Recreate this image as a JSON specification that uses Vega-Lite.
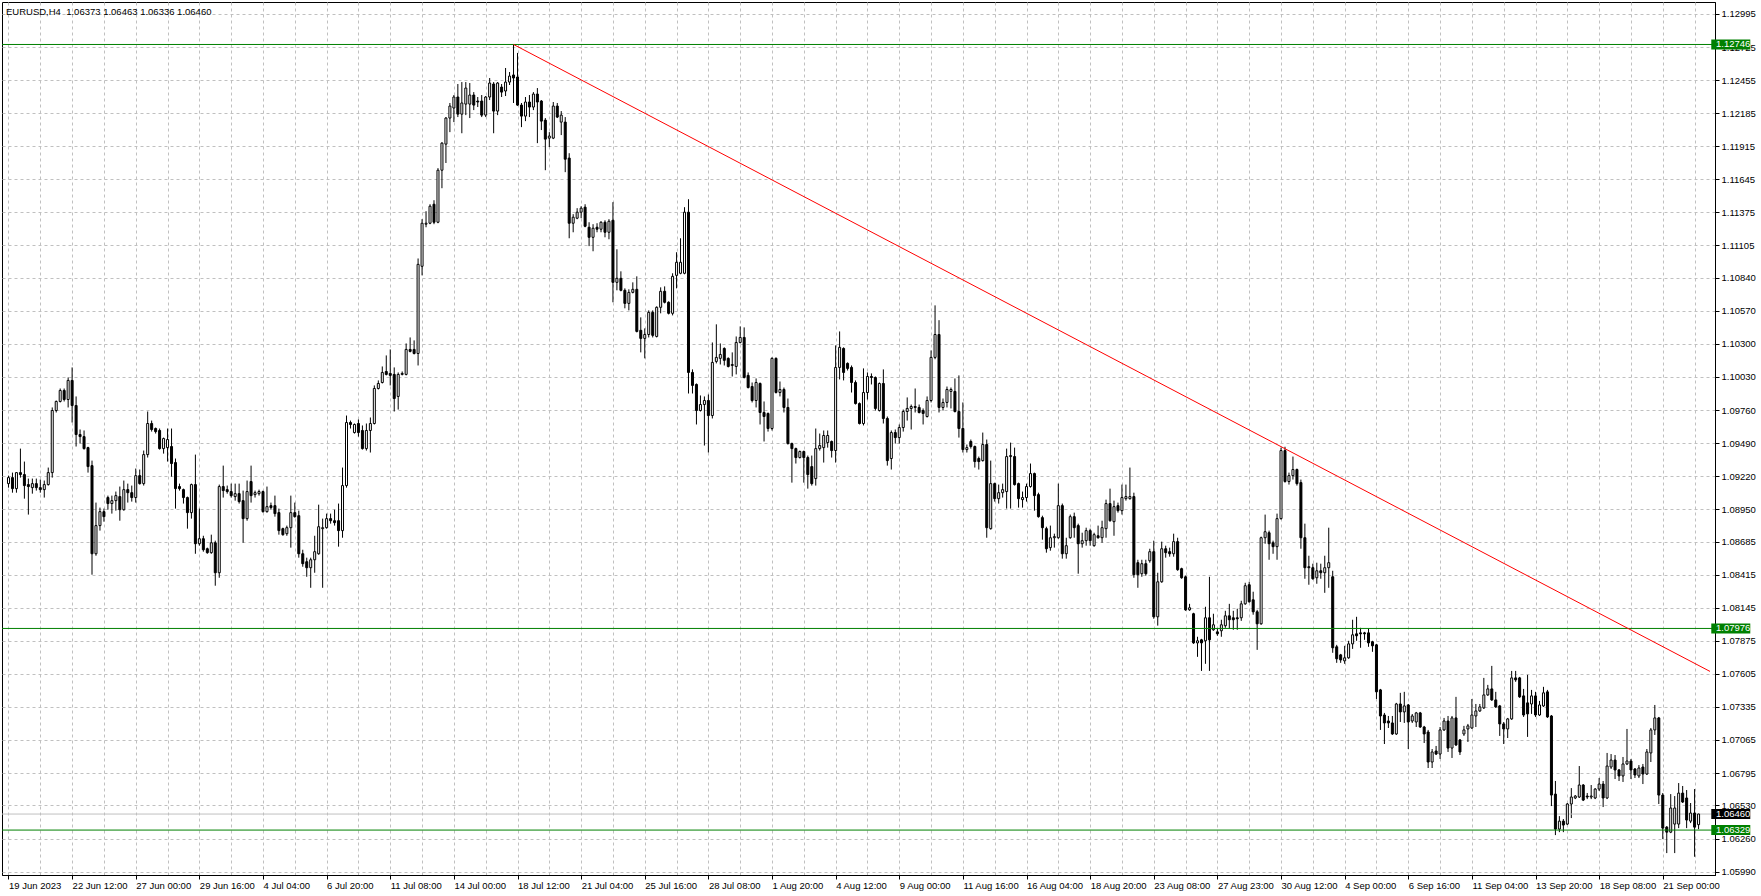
{
"$schema": "https://vega.github.io/schema/vega-lite/v6.json",
"width": 1713, "height": 873,
"autosize": {"type": "none"},
"padding": {"left": 2, "top": 2, "right": 46, "bottom": 21},
"background": "white",
"title": {"text": "EURUSD,H4\u00a0\u00a01.06373 1.06463 1.06336 1.06460", "anchor": "start", "frame": "group", "orient": "top", "offset": -14, "dx": 4, "font": "Liberation Sans", "fontSize": 9.5, "fontWeight": "normal", "color": "black"},
"config": {"view": {"stroke": "black", "strokeWidth": 1}, "axis": {"labelOverlap": false, "labelFlush": false, "tickCount": 200}},
"datasets": {
"candles": [
{"i":0,"o":1.09159,"h":1.09224,"l":1.09126,"c":1.09208},
{"i":1,"o":1.09208,"h":1.09249,"l":1.09085,"c":1.09118},
{"i":2,"o":1.09118,"h":1.09249,"l":1.09085,"c":1.09249},
{"i":3,"o":1.09249,"h":1.09445,"l":1.09208,"c":1.09233},
{"i":4,"o":1.09233,"h":1.09339,"l":1.09036,"c":1.09143},
{"i":5,"o":1.09151,"h":1.09200,"l":1.08906,"c":1.09135},
{"i":6,"o":1.09126,"h":1.09200,"l":1.09077,"c":1.09159},
{"i":7,"o":1.09159,"h":1.09200,"l":1.09102,"c":1.09126},
{"i":8,"o":1.09126,"h":1.09192,"l":1.09085,"c":1.09110},
{"i":9,"o":1.09110,"h":1.09184,"l":1.09045,"c":1.09151},
{"i":10,"o":1.09151,"h":1.09290,"l":1.09143,"c":1.09249},
{"i":11,"o":1.09249,"h":1.09781,"l":1.09208,"c":1.09756},
{"i":12,"o":1.09756,"h":1.09838,"l":1.09740,"c":1.09830},
{"i":13,"o":1.09830,"h":1.09936,"l":1.09822,"c":1.09920},
{"i":14,"o":1.09920,"h":1.09936,"l":1.09830,"c":1.09846},
{"i":15,"o":1.09846,"h":1.10026,"l":1.09781,"c":1.10002},
{"i":16,"o":1.10002,"h":1.10108,"l":1.09658,"c":1.09797},
{"i":17,"o":1.09797,"h":1.09871,"l":1.09462,"c":1.09560},
{"i":18,"o":1.09560,"h":1.09601,"l":1.09486,"c":1.09543},
{"i":19,"o":1.09543,"h":1.09593,"l":1.09437,"c":1.09445},
{"i":20,"o":1.09453,"h":1.09460,"l":1.09249,"c":1.09298},
{"i":21,"o":1.09306,"h":1.09347,"l":1.08415,"c":1.08586},
{"i":22,"o":1.08586,"h":1.09004,"l":1.08570,"c":1.08816},
{"i":23,"o":1.08816,"h":1.08963,"l":1.08775,"c":1.08930},
{"i":24,"o":1.08930,"h":1.08955,"l":1.08848,"c":1.08889},
{"i":25,"o":1.09045,"h":1.09061,"l":1.08946,"c":1.08996},
{"i":26,"o":1.08996,"h":1.09061,"l":1.08914,"c":1.09020},
{"i":27,"o":1.09020,"h":1.09094,"l":1.08938,"c":1.09061},
{"i":28,"o":1.09053,"h":1.09135,"l":1.08856,"c":1.08946},
{"i":29,"o":1.08946,"h":1.09184,"l":1.08938,"c":1.09110},
{"i":30,"o":1.09110,"h":1.09159,"l":1.09004,"c":1.09085},
{"i":31,"o":1.09085,"h":1.09143,"l":1.09012,"c":1.09045},
{"i":32,"o":1.09045,"h":1.09282,"l":1.09004,"c":1.09224},
{"i":33,"o":1.09224,"h":1.09274,"l":1.09151,"c":1.09159},
{"i":34,"o":1.09159,"h":1.09429,"l":1.09143,"c":1.09396},
{"i":35,"o":1.09396,"h":1.09748,"l":1.09372,"c":1.09650},
{"i":36,"o":1.09650,"h":1.09674,"l":1.09584,"c":1.09601},
{"i":37,"o":1.09609,"h":1.09617,"l":1.09568,"c":1.09584},
{"i":38,"o":1.09593,"h":1.09609,"l":1.09437,"c":1.09445},
{"i":39,"o":1.09445,"h":1.09535,"l":1.09404,"c":1.09527},
{"i":40,"o":1.09453,"h":1.09609,"l":1.09339,"c":1.09519},
{"i":41,"o":1.09462,"h":1.09609,"l":1.09216,"c":1.09323},
{"i":42,"o":1.09331,"h":1.09364,"l":1.08955,"c":1.09118},
{"i":43,"o":1.09135,"h":1.09159,"l":1.09102,"c":1.09118},
{"i":44,"o":1.09110,"h":1.09118,"l":1.08996,"c":1.09045},
{"i":45,"o":1.09045,"h":1.09053,"l":1.08791,"c":1.08922},
{"i":46,"o":1.08922,"h":1.09159,"l":1.08873,"c":1.09151},
{"i":47,"o":1.09151,"h":1.09396,"l":1.08586,"c":1.08668},
{"i":48,"o":1.08668,"h":1.08955,"l":1.08652,"c":1.08709},
{"i":49,"o":1.08709,"h":1.08733,"l":1.08603,"c":1.08619},
{"i":50,"o":1.08627,"h":1.08636,"l":1.08586,"c":1.08595},
{"i":51,"o":1.08595,"h":1.08742,"l":1.08586,"c":1.08676},
{"i":52,"o":1.08676,"h":1.08693,"l":1.08325,"c":1.08431},
{"i":53,"o":1.08431,"h":1.09151,"l":1.08390,"c":1.09135},
{"i":54,"o":1.09135,"h":1.09306,"l":1.09045,"c":1.09102},
{"i":55,"o":1.09110,"h":1.09143,"l":1.09077,"c":1.09094},
{"i":56,"o":1.09094,"h":1.09159,"l":1.09045,"c":1.09061},
{"i":57,"o":1.09053,"h":1.09159,"l":1.09020,"c":1.09077},
{"i":58,"o":1.09077,"h":1.09159,"l":1.08996,"c":1.09012},
{"i":59,"o":1.09020,"h":1.09102,"l":1.08676,"c":1.08873},
{"i":60,"o":1.08873,"h":1.09184,"l":1.08856,"c":1.09094},
{"i":61,"o":1.09176,"h":1.09306,"l":1.09004,"c":1.09061},
{"i":62,"o":1.09069,"h":1.09102,"l":1.09045,"c":1.09085},
{"i":63,"o":1.09077,"h":1.09110,"l":1.09061,"c":1.09094},
{"i":64,"o":1.09094,"h":1.09102,"l":1.08922,"c":1.08930},
{"i":65,"o":1.08930,"h":1.09135,"l":1.08922,"c":1.08971},
{"i":66,"o":1.08979,"h":1.09004,"l":1.08946,"c":1.08963},
{"i":67,"o":1.08979,"h":1.09061,"l":1.08889,"c":1.08914},
{"i":68,"o":1.08922,"h":1.08955,"l":1.08742,"c":1.08775},
{"i":69,"o":1.08791,"h":1.08799,"l":1.08733,"c":1.08742},
{"i":70,"o":1.08750,"h":1.08816,"l":1.08733,"c":1.08799},
{"i":71,"o":1.08799,"h":1.09061,"l":1.08636,"c":1.08922},
{"i":72,"o":1.08922,"h":1.09004,"l":1.08881,"c":1.08889},
{"i":73,"o":1.08897,"h":1.08938,"l":1.08554,"c":1.08586},
{"i":74,"o":1.08586,"h":1.08619,"l":1.08480,"c":1.08505},
{"i":75,"o":1.08521,"h":1.08554,"l":1.08398,"c":1.08472},
{"i":76,"o":1.08472,"h":1.08554,"l":1.08308,"c":1.08537},
{"i":77,"o":1.08537,"h":1.08733,"l":1.08431,"c":1.08603},
{"i":78,"o":1.08586,"h":1.08987,"l":1.08578,"c":1.08807},
{"i":79,"o":1.08791,"h":1.08873,"l":1.08308,"c":1.08799},
{"i":80,"o":1.08799,"h":1.08914,"l":1.08791,"c":1.08873},
{"i":81,"o":1.08873,"h":1.08914,"l":1.08832,"c":1.08856},
{"i":82,"o":1.08856,"h":1.08946,"l":1.08816,"c":1.08840},
{"i":83,"o":1.08856,"h":1.08996,"l":1.08644,"c":1.08775},
{"i":84,"o":1.08775,"h":1.09290,"l":1.08717,"c":1.09143},
{"i":85,"o":1.09143,"h":1.09715,"l":1.09126,"c":1.09658},
{"i":86,"o":1.09658,"h":1.09674,"l":1.09609,"c":1.09642},
{"i":87,"o":1.09576,"h":1.09650,"l":1.09568,"c":1.09642},
{"i":88,"o":1.09650,"h":1.09683,"l":1.09543,"c":1.09576},
{"i":89,"o":1.09593,"h":1.09634,"l":1.09437,"c":1.09445},
{"i":90,"o":1.09445,"h":1.09650,"l":1.09429,"c":1.09593},
{"i":91,"o":1.09593,"h":1.09699,"l":1.09413,"c":1.09650},
{"i":92,"o":1.09650,"h":1.09961,"l":1.09642,"c":1.09936},
{"i":93,"o":1.09936,"h":1.10002,"l":1.09928,"c":1.09977},
{"i":94,"o":1.09985,"h":1.10116,"l":1.09977,"c":1.10067},
{"i":95,"o":1.10075,"h":1.10206,"l":1.10043,"c":1.10051},
{"i":96,"o":1.10059,"h":1.10255,"l":1.09961,"c":1.10043},
{"i":97,"o":1.10051,"h":1.10108,"l":1.09748,"c":1.09854},
{"i":98,"o":1.09871,"h":1.10067,"l":1.09764,"c":1.10051},
{"i":99,"o":1.10051,"h":1.10075,"l":1.10043,"c":1.10059},
{"i":100,"o":1.10051,"h":1.10304,"l":1.10043,"c":1.10255},
{"i":101,"o":1.10255,"h":1.10353,"l":1.10231,"c":1.10239},
{"i":102,"o":1.10255,"h":1.10329,"l":1.10214,"c":1.10222},
{"i":103,"o":1.10222,"h":1.10998,"l":1.10124,"c":1.10950},
{"i":104,"o":1.10934,"h":1.11319,"l":1.10860,"c":1.11286},
{"i":105,"o":1.11278,"h":1.11384,"l":1.11253,"c":1.11286},
{"i":106,"o":1.11286,"h":1.11441,"l":1.11278,"c":1.11425},
{"i":107,"o":1.11441,"h":1.11474,"l":1.11278,"c":1.11294},
{"i":108,"o":1.11294,"h":1.11736,"l":1.11286,"c":1.11719},
{"i":109,"o":1.11719,"h":1.11948,"l":1.11572,"c":1.11940},
{"i":110,"o":1.11932,"h":1.12153,"l":1.11778,"c":1.12145},
{"i":111,"o":1.12145,"h":1.12268,"l":1.12030,"c":1.12243},
{"i":112,"o":1.12227,"h":1.12333,"l":1.12112,"c":1.12317},
{"i":113,"o":1.12317,"h":1.12423,"l":1.12153,"c":1.12177},
{"i":114,"o":1.12177,"h":1.12439,"l":1.12021,"c":1.12268},
{"i":115,"o":1.12259,"h":1.12439,"l":1.12169,"c":1.12390},
{"i":116,"o":1.12259,"h":1.12431,"l":1.12145,"c":1.12333},
{"i":117,"o":1.12333,"h":1.12357,"l":1.12210,"c":1.12251},
{"i":118,"o":1.12284,"h":1.12317,"l":1.12235,"c":1.12276},
{"i":119,"o":1.12284,"h":1.12333,"l":1.12153,"c":1.12169},
{"i":120,"o":1.12169,"h":1.12325,"l":1.12153,"c":1.12317},
{"i":121,"o":1.12317,"h":1.12472,"l":1.12292,"c":1.12431},
{"i":122,"o":1.12423,"h":1.12439,"l":1.12021,"c":1.12202},
{"i":123,"o":1.12202,"h":1.12439,"l":1.12169,"c":1.12431},
{"i":124,"o":1.12398,"h":1.12423,"l":1.12317,"c":1.12357},
{"i":125,"o":1.12366,"h":1.12554,"l":1.12325,"c":1.12439},
{"i":126,"o":1.12439,"h":1.12521,"l":1.12415,"c":1.12488},
{"i":127,"o":1.12497,"h":1.12746,"l":1.12268,"c":1.12472},
{"i":128,"o":1.12480,"h":1.12677,"l":1.12245,"c":1.12251},
{"i":129,"o":1.12251,"h":1.12268,"l":1.12071,"c":1.12161},
{"i":130,"o":1.12161,"h":1.12317,"l":1.12120,"c":1.12276},
{"i":131,"o":1.12276,"h":1.12333,"l":1.12153,"c":1.12235},
{"i":132,"o":1.12235,"h":1.12357,"l":1.12210,"c":1.12341},
{"i":133,"o":1.12341,"h":1.12390,"l":1.11940,"c":1.12276},
{"i":134,"o":1.12284,"h":1.12292,"l":1.12047,"c":1.12120},
{"i":135,"o":1.12128,"h":1.12145,"l":1.11719,"c":1.11973},
{"i":136,"o":1.11981,"h":1.12030,"l":1.11908,"c":1.11998},
{"i":137,"o":1.11981,"h":1.12276,"l":1.11973,"c":1.12243},
{"i":138,"o":1.12243,"h":1.12268,"l":1.12145,"c":1.12153},
{"i":139,"o":1.12112,"h":1.12202,"l":1.12006,"c":1.12169},
{"i":140,"o":1.12112,"h":1.12153,"l":1.11703,"c":1.11809},
{"i":141,"o":1.11818,"h":1.11858,"l":1.11163,"c":1.11286},
{"i":142,"o":1.11286,"h":1.11360,"l":1.11212,"c":1.11335},
{"i":143,"o":1.11327,"h":1.11409,"l":1.11319,"c":1.11376},
{"i":144,"o":1.11376,"h":1.11425,"l":1.11327,"c":1.11409},
{"i":145,"o":1.11417,"h":1.11441,"l":1.11253,"c":1.11261},
{"i":146,"o":1.11253,"h":1.11294,"l":1.11099,"c":1.11171},
{"i":147,"o":1.11171,"h":1.11278,"l":1.11057,"c":1.11245},
{"i":148,"o":1.11253,"h":1.11286,"l":1.11212,"c":1.11237},
{"i":149,"o":1.11237,"h":1.11302,"l":1.11212,"c":1.11294},
{"i":150,"o":1.11294,"h":1.11310,"l":1.11171,"c":1.11212},
{"i":151,"o":1.11212,"h":1.11319,"l":1.11155,"c":1.11302},
{"i":152,"o":1.11310,"h":1.11458,"l":1.10640,"c":1.10803},
{"i":153,"o":1.10803,"h":1.11073,"l":1.10738,"c":1.10836},
{"i":154,"o":1.10836,"h":1.10893,"l":1.10730,"c":1.10738},
{"i":155,"o":1.10738,"h":1.10754,"l":1.10591,"c":1.10631},
{"i":156,"o":1.10631,"h":1.10746,"l":1.10574,"c":1.10721},
{"i":157,"o":1.10721,"h":1.10803,"l":1.10713,"c":1.10746},
{"i":158,"o":1.10746,"h":1.10852,"l":1.10394,"c":1.10402},
{"i":159,"o":1.10411,"h":1.10517,"l":1.10231,"c":1.10345},
{"i":160,"o":1.10345,"h":1.10427,"l":1.10182,"c":1.10377},
{"i":161,"o":1.10377,"h":1.10574,"l":1.10353,"c":1.10558},
{"i":162,"o":1.10558,"h":1.10574,"l":1.10353,"c":1.10370},
{"i":163,"o":1.10361,"h":1.10607,"l":1.10353,"c":1.10599},
{"i":164,"o":1.10599,"h":1.10762,"l":1.10550,"c":1.10730},
{"i":165,"o":1.10730,"h":1.10770,"l":1.10631,"c":1.10640},
{"i":166,"o":1.10640,"h":1.10648,"l":1.10541,"c":1.10550},
{"i":167,"o":1.10550,"h":1.10877,"l":1.10533,"c":1.10852},
{"i":168,"o":1.10860,"h":1.11049,"l":1.10754,"c":1.10967},
{"i":169,"o":1.10877,"h":1.11163,"l":1.10869,"c":1.10967},
{"i":170,"o":1.10877,"h":1.11417,"l":1.10869,"c":1.11376},
{"i":171,"o":1.11376,"h":1.11482,"l":1.09895,"c":1.10067},
{"i":172,"o":1.10067,"h":1.10092,"l":1.09895,"c":1.09961},
{"i":173,"o":1.09969,"h":1.09977,"l":1.09642,"c":1.09756},
{"i":174,"o":1.09756,"h":1.09879,"l":1.09748,"c":1.09805},
{"i":175,"o":1.09805,"h":1.09871,"l":1.09470,"c":1.09838},
{"i":176,"o":1.09838,"h":1.09887,"l":1.09413,"c":1.09715},
{"i":177,"o":1.09715,"h":1.10312,"l":1.09691,"c":1.10149},
{"i":178,"o":1.10157,"h":1.10460,"l":1.10141,"c":1.10190},
{"i":179,"o":1.10182,"h":1.10304,"l":1.10132,"c":1.10214},
{"i":180,"o":1.10263,"h":1.10272,"l":1.10124,"c":1.10166},
{"i":181,"o":1.10182,"h":1.10190,"l":1.10108,"c":1.10116},
{"i":182,"o":1.10124,"h":1.10231,"l":1.10034,"c":1.10132},
{"i":183,"o":1.10116,"h":1.10361,"l":1.10051,"c":1.10312},
{"i":184,"o":1.10312,"h":1.10443,"l":1.10304,"c":1.10353},
{"i":185,"o":1.10353,"h":1.10435,"l":1.10018,"c":1.10026},
{"i":186,"o":1.10043,"h":1.10067,"l":1.09936,"c":1.09944},
{"i":187,"o":1.09952,"h":1.09985,"l":1.09822,"c":1.09838},
{"i":188,"o":1.09838,"h":1.10018,"l":1.09781,"c":1.09985},
{"i":189,"o":1.09977,"h":1.09985,"l":1.09642,"c":1.09740},
{"i":190,"o":1.09740,"h":1.09830,"l":1.09503,"c":1.09707},
{"i":191,"o":1.09732,"h":1.09740,"l":1.09584,"c":1.09609},
{"i":192,"o":1.09609,"h":1.10190,"l":1.09593,"c":1.10182},
{"i":193,"o":1.10182,"h":1.10190,"l":1.09895,"c":1.09903},
{"i":194,"o":1.09903,"h":1.09993,"l":1.09871,"c":1.09928},
{"i":195,"o":1.09928,"h":1.09944,"l":1.09740,"c":1.09781},
{"i":196,"o":1.09781,"h":1.09854,"l":1.09478,"c":1.09486},
{"i":197,"o":1.09486,"h":1.09494,"l":1.09167,"c":1.09445},
{"i":198,"o":1.09445,"h":1.09453,"l":1.09323,"c":1.09372},
{"i":199,"o":1.09372,"h":1.09429,"l":1.09364,"c":1.09421},
{"i":200,"o":1.09421,"h":1.09429,"l":1.09167,"c":1.09372},
{"i":201,"o":1.09372,"h":1.09388,"l":1.09118,"c":1.09233},
{"i":202,"o":1.09298,"h":1.09388,"l":1.09143,"c":1.09159},
{"i":203,"o":1.09200,"h":1.09609,"l":1.09143,"c":1.09445},
{"i":204,"o":1.09445,"h":1.09568,"l":1.09429,"c":1.09470},
{"i":205,"o":1.09453,"h":1.09593,"l":1.09331,"c":1.09552},
{"i":206,"o":1.09494,"h":1.09593,"l":1.09453,"c":1.09552},
{"i":207,"o":1.09503,"h":1.09511,"l":1.09372,"c":1.09429},
{"i":208,"o":1.09429,"h":1.10288,"l":1.09331,"c":1.10108},
{"i":209,"o":1.10108,"h":1.10402,"l":1.10010,"c":1.10272},
{"i":210,"o":1.10263,"h":1.10272,"l":1.10002,"c":1.10067},
{"i":211,"o":1.10141,"h":1.10149,"l":1.10083,"c":1.10100},
{"i":212,"o":1.10108,"h":1.10124,"l":1.09903,"c":1.09985},
{"i":213,"o":1.09985,"h":1.10002,"l":1.09805,"c":1.09813},
{"i":214,"o":1.09813,"h":1.09822,"l":1.09642,"c":1.09650},
{"i":215,"o":1.09650,"h":1.10100,"l":1.09634,"c":1.09903},
{"i":216,"o":1.09903,"h":1.10067,"l":1.09846,"c":1.10034},
{"i":217,"o":1.10034,"h":1.10059,"l":1.09969,"c":1.10026},
{"i":218,"o":1.10026,"h":1.10034,"l":1.09756,"c":1.09773},
{"i":219,"o":1.09756,"h":1.09985,"l":1.09748,"c":1.09977},
{"i":220,"o":1.09977,"h":1.10092,"l":1.09650,"c":1.09691},
{"i":221,"o":1.09691,"h":1.09707,"l":1.09306,"c":1.09347},
{"i":222,"o":1.09364,"h":1.09593,"l":1.09274,"c":1.09576},
{"i":223,"o":1.09576,"h":1.09601,"l":1.09486,"c":1.09535},
{"i":224,"o":1.09535,"h":1.09642,"l":1.09486,"c":1.09617},
{"i":225,"o":1.09617,"h":1.09764,"l":1.09584,"c":1.09748},
{"i":226,"o":1.09748,"h":1.09863,"l":1.09674,"c":1.09773},
{"i":227,"o":1.09773,"h":1.09805,"l":1.09601,"c":1.09789},
{"i":228,"o":1.09789,"h":1.09936,"l":1.09740,"c":1.09781},
{"i":229,"o":1.09781,"h":1.09805,"l":1.09732,"c":1.09740},
{"i":230,"o":1.09756,"h":1.09773,"l":1.09642,"c":1.09732},
{"i":231,"o":1.09707,"h":1.09871,"l":1.09699,"c":1.09838},
{"i":232,"o":1.09838,"h":1.10247,"l":1.09822,"c":1.10190},
{"i":233,"o":1.10190,"h":1.10615,"l":1.10175,"c":1.10377},
{"i":234,"o":1.10377,"h":1.10494,"l":1.09740,"c":1.09781},
{"i":235,"o":1.09781,"h":1.09854,"l":1.09756,"c":1.09822},
{"i":236,"o":1.09822,"h":1.09952,"l":1.09781,"c":1.09928},
{"i":237,"o":1.09912,"h":1.09944,"l":1.09773,"c":1.09928},
{"i":238,"o":1.09912,"h":1.10018,"l":1.09740,"c":1.09748},
{"i":239,"o":1.09748,"h":1.10043,"l":1.09535,"c":1.09609},
{"i":240,"o":1.09609,"h":1.09822,"l":1.09413,"c":1.09437},
{"i":241,"o":1.09437,"h":1.09478,"l":1.09413,"c":1.09453},
{"i":242,"o":1.09503,"h":1.09519,"l":1.09445,"c":1.09462},
{"i":243,"o":1.09462,"h":1.09470,"l":1.09290,"c":1.09339},
{"i":244,"o":1.09364,"h":1.09380,"l":1.09274,"c":1.09339},
{"i":245,"o":1.09347,"h":1.09576,"l":1.09339,"c":1.09478},
{"i":246,"o":1.09478,"h":1.09519,"l":1.08717,"c":1.08799},
{"i":247,"o":1.08791,"h":1.09347,"l":1.08783,"c":1.09159},
{"i":248,"o":1.09159,"h":1.09167,"l":1.09012,"c":1.09036},
{"i":249,"o":1.09036,"h":1.09151,"l":1.08996,"c":1.09085},
{"i":250,"o":1.09085,"h":1.09159,"l":1.09045,"c":1.09110},
{"i":251,"o":1.09094,"h":1.09445,"l":1.08955,"c":1.09380},
{"i":252,"o":1.09380,"h":1.09494,"l":1.08955,"c":1.09388},
{"i":253,"o":1.09380,"h":1.09453,"l":1.09143,"c":1.09151},
{"i":254,"o":1.09159,"h":1.09167,"l":1.08963,"c":1.09036},
{"i":255,"o":1.09028,"h":1.09094,"l":1.08963,"c":1.09045},
{"i":256,"o":1.09045,"h":1.09159,"l":1.09012,"c":1.09135},
{"i":257,"o":1.09135,"h":1.09323,"l":1.09126,"c":1.09241},
{"i":258,"o":1.09241,"h":1.09249,"l":1.08938,"c":1.09061},
{"i":259,"o":1.09069,"h":1.09085,"l":1.08881,"c":1.08889},
{"i":260,"o":1.08881,"h":1.08897,"l":1.08701,"c":1.08799},
{"i":261,"o":1.08791,"h":1.08807,"l":1.08595,"c":1.08627},
{"i":262,"o":1.08636,"h":1.08816,"l":1.08611,"c":1.08717},
{"i":263,"o":1.08717,"h":1.08750,"l":1.08636,"c":1.08726},
{"i":264,"o":1.08717,"h":1.09159,"l":1.08709,"c":1.08979},
{"i":265,"o":1.08979,"h":1.08996,"l":1.08546,"c":1.08586},
{"i":266,"o":1.08586,"h":1.08717,"l":1.08546,"c":1.08652},
{"i":267,"o":1.08717,"h":1.08906,"l":1.08709,"c":1.08889},
{"i":268,"o":1.08889,"h":1.08922,"l":1.08717,"c":1.08799},
{"i":269,"o":1.08816,"h":1.08832,"l":1.08423,"c":1.08668},
{"i":270,"o":1.08668,"h":1.08758,"l":1.08636,"c":1.08693},
{"i":271,"o":1.08693,"h":1.08799,"l":1.08652,"c":1.08775},
{"i":272,"o":1.08775,"h":1.08791,"l":1.08652,"c":1.08693},
{"i":273,"o":1.08652,"h":1.08758,"l":1.08644,"c":1.08742},
{"i":274,"o":1.08733,"h":1.08816,"l":1.08709,"c":1.08717},
{"i":275,"o":1.08717,"h":1.08856,"l":1.08676,"c":1.08799},
{"i":276,"o":1.08791,"h":1.09028,"l":1.08717,"c":1.08996},
{"i":277,"o":1.08996,"h":1.09118,"l":1.08848,"c":1.08856},
{"i":278,"o":1.08848,"h":1.09020,"l":1.08733,"c":1.08971},
{"i":279,"o":1.08979,"h":1.09004,"l":1.08922,"c":1.08938},
{"i":280,"o":1.08938,"h":1.09151,"l":1.08906,"c":1.09045},
{"i":281,"o":1.09036,"h":1.09151,"l":1.09020,"c":1.09053},
{"i":282,"o":1.09036,"h":1.09290,"l":1.09028,"c":1.09053},
{"i":283,"o":1.09053,"h":1.09085,"l":1.08390,"c":1.08415},
{"i":284,"o":1.08513,"h":1.08537,"l":1.08308,"c":1.08415},
{"i":285,"o":1.08423,"h":1.08537,"l":1.08398,"c":1.08505},
{"i":286,"o":1.08505,"h":1.08537,"l":1.08407,"c":1.08423},
{"i":287,"o":1.08529,"h":1.08627,"l":1.08513,"c":1.08603},
{"i":288,"o":1.08603,"h":1.08693,"l":1.08055,"c":1.08071},
{"i":289,"o":1.08071,"h":1.08431,"l":1.07999,"c":1.08357},
{"i":290,"o":1.08357,"h":1.08685,"l":1.08349,"c":1.08627},
{"i":291,"o":1.08627,"h":1.08652,"l":1.08554,"c":1.08595},
{"i":292,"o":1.08603,"h":1.08636,"l":1.08562,"c":1.08586},
{"i":293,"o":1.08586,"h":1.08750,"l":1.08562,"c":1.08685},
{"i":294,"o":1.08685,"h":1.08717,"l":1.08447,"c":1.08456},
{"i":295,"o":1.08464,"h":1.08472,"l":1.08382,"c":1.08390},
{"i":296,"o":1.08398,"h":1.08407,"l":1.08120,"c":1.08128},
{"i":297,"o":1.08128,"h":1.08177,"l":1.08120,"c":1.08145},
{"i":298,"o":1.08096,"h":1.08104,"l":1.07850,"c":1.07858},
{"i":299,"o":1.07858,"h":1.07908,"l":1.07744,"c":1.07875},
{"i":300,"o":1.07883,"h":1.07891,"l":1.07629,"c":1.07858},
{"i":301,"o":1.07875,"h":1.08153,"l":1.07687,"c":1.08063},
{"i":302,"o":1.08063,"h":1.08398,"l":1.07629,"c":1.07883},
{"i":303,"o":1.07965,"h":1.08096,"l":1.07957,"c":1.08006},
{"i":304,"o":1.07948,"h":1.07973,"l":1.07916,"c":1.07932},
{"i":305,"o":1.07957,"h":1.08047,"l":1.07908,"c":1.08006},
{"i":306,"o":1.07998,"h":1.08120,"l":1.07981,"c":1.08079},
{"i":307,"o":1.08079,"h":1.08177,"l":1.07973,"c":1.08047},
{"i":308,"o":1.08063,"h":1.08120,"l":1.07965,"c":1.08047},
{"i":309,"o":1.08063,"h":1.08137,"l":1.07965,"c":1.08055},
{"i":310,"o":1.08063,"h":1.08202,"l":1.08038,"c":1.08177},
{"i":311,"o":1.08177,"h":1.08349,"l":1.08169,"c":1.08325},
{"i":312,"o":1.08333,"h":1.08357,"l":1.08186,"c":1.08194},
{"i":313,"o":1.08210,"h":1.08276,"l":1.08088,"c":1.08112},
{"i":314,"o":1.08112,"h":1.08128,"l":1.07801,"c":1.08014},
{"i":315,"o":1.08014,"h":1.08726,"l":1.08006,"c":1.08717},
{"i":316,"o":1.08717,"h":1.08906,"l":1.08668,"c":1.08766},
{"i":317,"o":1.08758,"h":1.08775,"l":1.08537,"c":1.08668},
{"i":318,"o":1.08676,"h":1.08693,"l":1.08586,"c":1.08644},
{"i":319,"o":1.08644,"h":1.08914,"l":1.08537,"c":1.08873},
{"i":320,"o":1.08873,"h":1.09453,"l":1.08865,"c":1.09429},
{"i":321,"o":1.09429,"h":1.09460,"l":1.09167,"c":1.09176},
{"i":322,"o":1.09176,"h":1.09249,"l":1.09151,"c":1.09224},
{"i":323,"o":1.09224,"h":1.09380,"l":1.09192,"c":1.09274},
{"i":324,"o":1.09274,"h":1.09282,"l":1.09143,"c":1.09159},
{"i":325,"o":1.09167,"h":1.09192,"l":1.08627,"c":1.08717},
{"i":326,"o":1.08717,"h":1.08832,"l":1.08382,"c":1.08472},
{"i":327,"o":1.08480,"h":1.08570,"l":1.08333,"c":1.08472},
{"i":328,"o":1.08472,"h":1.08505,"l":1.08374,"c":1.08382},
{"i":329,"o":1.08390,"h":1.08513,"l":1.08341,"c":1.08447},
{"i":330,"o":1.08447,"h":1.08505,"l":1.08382,"c":1.08431},
{"i":331,"o":1.08431,"h":1.08570,"l":1.08267,"c":1.08472},
{"i":332,"o":1.08472,"h":1.08799,"l":1.08308,"c":1.08513},
{"i":333,"o":1.08398,"h":1.08447,"l":1.07777,"c":1.07818},
{"i":334,"o":1.07826,"h":1.07842,"l":1.07695,"c":1.07728},
{"i":335,"o":1.07760,"h":1.07768,"l":1.07695,"c":1.07719},
{"i":336,"o":1.07711,"h":1.07834,"l":1.07687,"c":1.07736},
{"i":337,"o":1.07736,"h":1.07875,"l":1.07728,"c":1.07850},
{"i":338,"o":1.07850,"h":1.08047,"l":1.07809,"c":1.07924},
{"i":339,"o":1.07932,"h":1.08071,"l":1.07875,"c":1.07916},
{"i":340,"o":1.07940,"h":1.07981,"l":1.07818,"c":1.07932},
{"i":341,"o":1.07940,"h":1.07948,"l":1.07883,"c":1.07932},
{"i":342,"o":1.07940,"h":1.07973,"l":1.07826,"c":1.07858},
{"i":343,"o":1.07867,"h":1.07875,"l":1.07785,"c":1.07834},
{"i":344,"o":1.07842,"h":1.07850,"l":1.07400,"c":1.07458},
{"i":345,"o":1.07474,"h":1.07482,"l":1.07147,"c":1.07261},
{"i":346,"o":1.07269,"h":1.07286,"l":1.07032,"c":1.07204},
{"i":347,"o":1.07220,"h":1.07261,"l":1.07163,"c":1.07204},
{"i":348,"o":1.07204,"h":1.07261,"l":1.07106,"c":1.07114},
{"i":349,"o":1.07114,"h":1.07368,"l":1.07106,"c":1.07359},
{"i":350,"o":1.07359,"h":1.07450,"l":1.07212,"c":1.07294},
{"i":351,"o":1.07294,"h":1.07458,"l":1.07204,"c":1.07343},
{"i":352,"o":1.07351,"h":1.07359,"l":1.06991,"c":1.07212},
{"i":353,"o":1.07220,"h":1.07277,"l":1.07204,"c":1.07261},
{"i":354,"o":1.07212,"h":1.07294,"l":1.07171,"c":1.07286},
{"i":355,"o":1.07286,"h":1.07294,"l":1.07163,"c":1.07171},
{"i":356,"o":1.07171,"h":1.07180,"l":1.07040,"c":1.07114},
{"i":357,"o":1.07130,"h":1.07147,"l":1.06836,"c":1.06885},
{"i":358,"o":1.06885,"h":1.06991,"l":1.06836,"c":1.06967},
{"i":359,"o":1.06975,"h":1.07016,"l":1.06942,"c":1.06950},
{"i":360,"o":1.06950,"h":1.07171,"l":1.06910,"c":1.07147},
{"i":361,"o":1.07147,"h":1.07245,"l":1.07139,"c":1.07220},
{"i":362,"o":1.07220,"h":1.07261,"l":1.06967,"c":1.06999},
{"i":363,"o":1.06999,"h":1.07261,"l":1.06918,"c":1.07245},
{"i":364,"o":1.07245,"h":1.07417,"l":1.07016,"c":1.07024},
{"i":365,"o":1.07065,"h":1.07073,"l":1.06942,"c":1.06967},
{"i":366,"o":1.07114,"h":1.07180,"l":1.07098,"c":1.07147},
{"i":367,"o":1.07155,"h":1.07196,"l":1.07049,"c":1.07180},
{"i":368,"o":1.07163,"h":1.07400,"l":1.07155,"c":1.07269},
{"i":369,"o":1.07261,"h":1.07359,"l":1.07171,"c":1.07302},
{"i":370,"o":1.07302,"h":1.07359,"l":1.07294,"c":1.07335},
{"i":371,"o":1.07327,"h":1.07572,"l":1.07318,"c":1.07433},
{"i":372,"o":1.07433,"h":1.07515,"l":1.07425,"c":1.07482},
{"i":373,"o":1.07482,"h":1.07670,"l":1.07384,"c":1.07392},
{"i":374,"o":1.07392,"h":1.07458,"l":1.07327,"c":1.07335},
{"i":375,"o":1.07343,"h":1.07351,"l":1.07098,"c":1.07196},
{"i":376,"o":1.07196,"h":1.07212,"l":1.07032,"c":1.07155},
{"i":377,"o":1.07155,"h":1.07245,"l":1.07081,"c":1.07237},
{"i":378,"o":1.07237,"h":1.07629,"l":1.07229,"c":1.07572},
{"i":379,"o":1.07572,"h":1.07629,"l":1.07540,"c":1.07556},
{"i":380,"o":1.07572,"h":1.07580,"l":1.07409,"c":1.07417},
{"i":381,"o":1.07425,"h":1.07482,"l":1.07253,"c":1.07269},
{"i":382,"o":1.07368,"h":1.07597,"l":1.07090,"c":1.07278},
{"i":383,"o":1.07359,"h":1.07474,"l":1.07278,"c":1.07425},
{"i":384,"o":1.07425,"h":1.07458,"l":1.07253,"c":1.07269},
{"i":385,"o":1.07269,"h":1.07384,"l":1.07261,"c":1.07351},
{"i":386,"o":1.07343,"h":1.07499,"l":1.07335,"c":1.07450},
{"i":387,"o":1.07458,"h":1.07474,"l":1.07245,"c":1.07253},
{"i":388,"o":1.07261,"h":1.07269,"l":1.06525,"c":1.06615},
{"i":389,"o":1.06623,"h":1.06730,"l":1.06288,"c":1.06337},
{"i":390,"o":1.06337,"h":1.06443,"l":1.06312,"c":1.06402},
{"i":391,"o":1.06402,"h":1.06419,"l":1.06312,"c":1.06370},
{"i":392,"o":1.06378,"h":1.06550,"l":1.06370,"c":1.06542},
{"i":393,"o":1.06542,"h":1.06672,"l":1.06427,"c":1.06599},
{"i":394,"o":1.06591,"h":1.06615,"l":1.06582,"c":1.06607},
{"i":395,"o":1.06599,"h":1.06852,"l":1.06591,"c":1.06697},
{"i":396,"o":1.06697,"h":1.06705,"l":1.06566,"c":1.06574},
{"i":397,"o":1.06607,"h":1.06632,"l":1.06582,"c":1.06599},
{"i":398,"o":1.06599,"h":1.06697,"l":1.06582,"c":1.06607},
{"i":399,"o":1.06591,"h":1.06672,"l":1.06582,"c":1.06664},
{"i":400,"o":1.06664,"h":1.06754,"l":1.06648,"c":1.06705},
{"i":401,"o":1.06705,"h":1.06730,"l":1.06517,"c":1.06591},
{"i":402,"o":1.06591,"h":1.06959,"l":1.06582,"c":1.06852},
{"i":403,"o":1.06844,"h":1.06950,"l":1.06828,"c":1.06901},
{"i":404,"o":1.06901,"h":1.06942,"l":1.06746,"c":1.06820},
{"i":405,"o":1.06820,"h":1.06828,"l":1.06730,"c":1.06771},
{"i":406,"o":1.06771,"h":1.06926,"l":1.06722,"c":1.06869},
{"i":407,"o":1.06869,"h":1.07155,"l":1.06860,"c":1.06893},
{"i":408,"o":1.06893,"h":1.06910,"l":1.06746,"c":1.06820},
{"i":409,"o":1.06828,"h":1.06836,"l":1.06754,"c":1.06779},
{"i":410,"o":1.06771,"h":1.06860,"l":1.06754,"c":1.06836},
{"i":411,"o":1.06844,"h":1.06869,"l":1.06705,"c":1.06787},
{"i":412,"o":1.06787,"h":1.06991,"l":1.06779,"c":1.06967},
{"i":413,"o":1.06959,"h":1.07163,"l":1.06885,"c":1.07147},
{"i":414,"o":1.07147,"h":1.07351,"l":1.07106,"c":1.07245},
{"i":415,"o":1.07245,"h":1.07253,"l":1.06542,"c":1.06615},
{"i":416,"o":1.06615,"h":1.06632,"l":1.06255,"c":1.06345},
{"i":417,"o":1.06353,"h":1.06362,"l":1.06141,"c":1.06312},
{"i":418,"o":1.06312,"h":1.06623,"l":1.06304,"c":1.06509},
{"i":419,"o":1.06378,"h":1.06607,"l":1.06141,"c":1.06509},
{"i":420,"o":1.06378,"h":1.06713,"l":1.06345,"c":1.06631},
{"i":421,"o":1.06631,"h":1.06689,"l":1.06550,"c":1.06558},
{"i":422,"o":1.06591,"h":1.06656,"l":1.06345,"c":1.06411},
{"i":423,"o":1.06402,"h":1.06550,"l":1.06386,"c":1.06468},
{"i":424,"o":1.06468,"h":1.06664,"l":1.06111,"c":1.06353},
{"i":425,"o":1.06373,"h":1.06463,"l":1.06336,"c":1.06460}
],
"levels": [
{"p":1.12746,"kind":"object"},
{"p":1.07976,"kind":"object"},
{"p":1.06329,"kind":"object"},
{"p":1.0646,"kind":"bid"}
],
"trend": [
{"i":127,"p":1.12746},
{"i":427.875,"p":1.07625}
]
},
"layer": [
{
"data": {"name": "candles"},
"mark": {"type": "rule", "color": "black", "strokeWidth": 1},
"encoding": {
"x": {"field": "i", "type": "quantitative",
 "scale": {"domain": [-0.375, 427.875], "nice": false, "zero": false},
 "axis": {"title": null, "orient": "bottom", "tickCount": 200,
  "values": [0,8,16,24,32,40,48,56,64,72,80,88,96,104,112,120,128,136,144,152,160,168,176,184,192,200,208,216,224,232,240,248,256,264,272,280,288,296,304,312,320,328,336,344,352,360,368,376,384,392,400,408,416,424],
  "grid": true, "gridColor": "#c0c0c0", "gridDash": [3,3], "gridWidth": 1,
  "domainColor": "black", "tickColor": "black", "tickSize": 4,
  "tickOpacity": {"condition": {"test": "datum.value % 16 === 0", "value": 1}, "value": 0},
  "labelExpr": "datum.value % 16 === 0 ? ['19 Jun 2023','22 Jun 12:00','27 Jun 00:00','29 Jun 16:00','4 Jul 04:00','6 Jul 20:00','11 Jul 08:00','14 Jul 00:00','18 Jul 12:00','21 Jul 04:00','25 Jul 16:00','28 Jul 08:00','1 Aug 20:00','4 Aug 12:00','9 Aug 00:00','11 Aug 16:00','16 Aug 04:00','18 Aug 20:00','23 Aug 08:00','27 Aug 23:00','30 Aug 12:00','4 Sep 00:00','6 Sep 16:00','11 Sep 04:00','13 Sep 20:00','18 Sep 08:00','21 Sep 00:00'][datum.value / 16] : ''",
  "labelAlign": "left", "labelBaseline": "top", "labelPadding": 1,
  "labelFont": "Liberation Sans", "labelFontSize": 9.5, "labelColor": "black",
  "labelOverlap": false, "labelFlush": false}},
"y": {"field": "l", "type": "quantitative",
 "scale": {"domain": [1.05962, 1.13093], "nice": false, "zero": false},
 "axis": {"title": null, "orient": "right", "tickCount": 200,
  "values": [1.12995,1.12725,1.12455,1.12185,1.11915,1.11645,1.11375,1.11105,1.1084,1.1057,1.103,1.1003,1.0976,1.0949,1.0922,1.0895,1.08685,1.08415,1.08145,1.07875,1.07605,1.07335,1.07065,1.06795,1.0653,1.0626,1.0599],
  "format": ".5f", "grid": true, "gridColor": "#c0c0c0", "gridDash": [3,3], "gridWidth": 1,
  "domainColor": "black", "tickColor": "black", "tickSize": 4, "labelPadding": 2,
  "labelFont": "Liberation Sans", "labelFontSize": 9.5, "labelColor": "black",
  "labelOverlap": false, "labelFlush": false}},
"y2": {"field": "h"}
}
},
{
"data": {"name": "levels"},
"transform": [{"filter": "datum.kind === 'bid'"}],
"mark": {"type": "rule", "color": "#c0c0c0", "strokeWidth": 1},
"encoding": {"y": {"field": "p", "type": "quantitative", "axis": {"title": null}}}
},
{
"data": {"name": "candles"},
"mark": {"type": "bar", "orient": "vertical", "width": 2, "stroke": "black", "strokeWidth": 1},
"encoding": {
"x": {"field": "i", "type": "quantitative", "axis": {"title": null}},
"y": {"field": "o", "type": "quantitative", "axis": {"title": null}},
"y2": {"field": "c"},
"fill": {"condition": {"test": "datum.c >= datum.o", "value": "white"}, "value": "black"}
}
},
{
"data": {"name": "levels"},
"transform": [{"filter": "datum.kind === 'object'"}],
"mark": {"type": "rule", "color": "#008000", "strokeWidth": 1},
"encoding": {"y": {"field": "p", "type": "quantitative", "axis": {"title": null}}}
},
{
"data": {"name": "trend"},
"mark": {"type": "line", "color": "#ff0000", "strokeWidth": 1},
"encoding": {
"x": {"field": "i", "type": "quantitative", "axis": {"title": null}},
"y": {"field": "p", "type": "quantitative", "axis": {"title": null}}
}
},
{
"data": {"name": "levels"},
"mark": {"type": "tick", "orient": "horizontal", "size": 39, "thickness": 10, "opacity": 1},
"encoding": {
"x": {"datum": 433.1, "type": "quantitative"},
"y": {"field": "p", "type": "quantitative", "axis": {"title": null}},
"color": {"condition": {"test": "datum.kind === 'bid'", "value": "black"}, "value": "#008000"}
}
},
{
"data": {"name": "levels"},
"mark": {"type": "text", "align": "left", "baseline": "middle", "font": "Liberation Sans", "fontSize": 9.5, "color": "white"},
"encoding": {
"x": {"datum": 429.4, "type": "quantitative"},
"y": {"field": "p", "type": "quantitative", "axis": {"title": null}},
"text": {"field": "p", "type": "quantitative", "format": ".5f"}
}
}
]
}
